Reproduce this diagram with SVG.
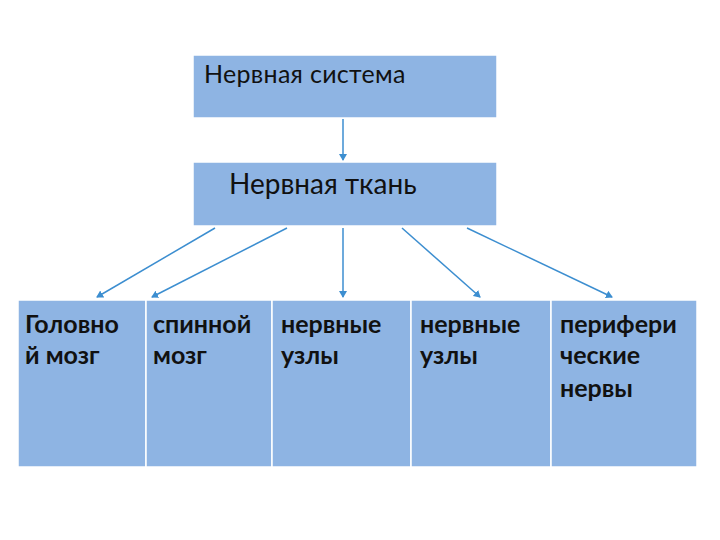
<svg xmlns="http://www.w3.org/2000/svg" width="720" height="540" viewBox="0 0 720 540">
<style>
.b{fill:#8EB4E3;stroke:#fff;stroke-width:1.5}
.t{font-family:Lato,"Liberation Sans",sans-serif;font-weight:bold;font-size:25px;fill:#111}
.c{stroke:#3C8ED0;stroke-width:1.5;fill:none;marker-end:url(#a)}
</style>
<defs><marker id="a" markerWidth="8" markerHeight="8" refX="6" refY="4" orient="auto" markerUnits="userSpaceOnUse"><path d="M0,0L7,4L0,8z" fill="#3C8ED0"/></marker></defs>
<rect width="720" height="540" fill="#fff"/>
<g id="n1"><rect class="b" x="193" y="55" width="304" height="63"/><text class="t" x="204" y="83" style="font-size:25px;font-weight:normal;letter-spacing:0.3px">Нервная система</text></g>
<g id="n2"><rect class="b" x="193" y="162" width="304" height="64"/><text class="t" x="229" y="194" style="font-weight:normal;font-size:28px">Нервная ткань</text></g>
<g id="n3"><rect class="b" x="18" y="300" width="128" height="167"/><text class="t" x="25" y="333">Головно</text><text class="t" x="25" y="364">й мозг</text></g>
<g id="n4"><rect class="b" x="146" y="300" width="126" height="167"/><text class="t" x="153" y="333">спинной</text><text class="t" x="153" y="364">мозг</text></g>
<g id="n5"><rect class="b" x="272" y="300" width="139" height="167"/><text class="t" x="281" y="333">нервные</text><text class="t" x="281" y="364">узлы</text></g>
<g id="n6"><rect class="b" x="411" y="300" width="140" height="167"/><text class="t" x="420" y="333">нервные</text><text class="t" x="420" y="364">узлы</text></g>
<g id="n7"><rect class="b" x="551" y="300" width="146" height="167"/><text class="t" x="560" y="333">перифери</text><text class="t" x="560" y="364">ческие</text><text class="t" x="560" y="397">нервы</text></g>
<g id="connectors">
<line class="c" x1="343" y1="119" x2="343" y2="160"/>
<line class="c" x1="215" y1="228" x2="97" y2="297"/>
<line class="c" x1="287" y1="228" x2="152" y2="297"/>
<line class="c" x1="343" y1="228" x2="343" y2="297"/>
<line class="c" x1="402" y1="228" x2="480" y2="297"/>
<line class="c" x1="467" y1="228" x2="612" y2="297"/>
</g>
</svg>
